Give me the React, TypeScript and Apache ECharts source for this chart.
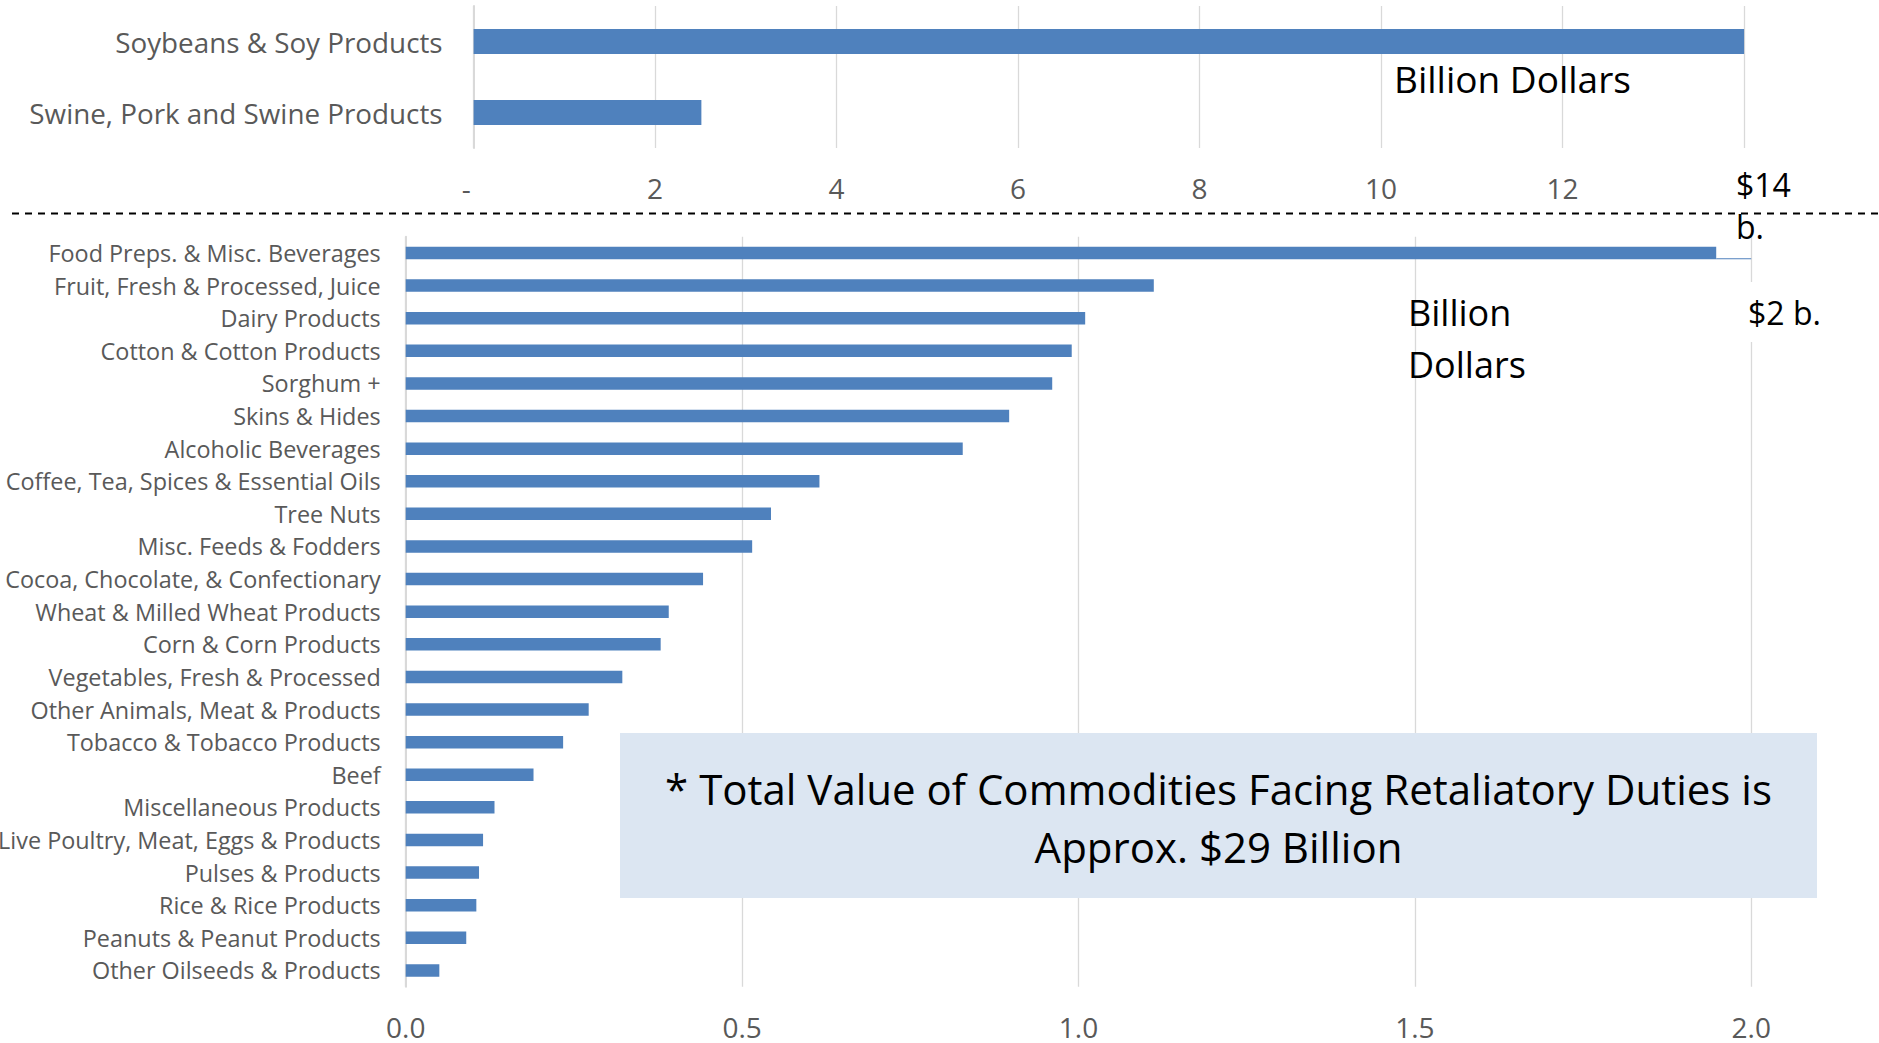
import React, { useEffect, useRef } from "react";
import * as echarts from "echarts";

const topCategories = ["Soybeans & Soy Products", "Swine, Pork and Swine Products"];
const topValues = [14.02, 2.51];

const bottomCategories = [
  "Food Preps. & Misc. Beverages",
  "Fruit, Fresh & Processed, Juice",
  "Dairy Products",
  "Cotton & Cotton Products",
  "Sorghum +",
  "Skins & Hides",
  "Alcoholic Beverages",
  "Coffee, Tea, Spices & Essential Oils",
  "Tree Nuts",
  "Misc. Feeds & Fodders",
  "Cocoa, Chocolate, & Confectionary",
  "Wheat & Milled Wheat Products",
  "Corn & Corn Products",
  "Vegetables, Fresh & Processed",
  "Other Animals, Meat & Products",
  "Tobacco & Tobacco Products",
  "Beef",
  "Miscellaneous Products",
  "Live Poultry, Meat, Eggs & Products",
  "Pulses & Products",
  "Rice & Rice Products",
  "Peanuts & Peanut Products",
  "Other Oilseeds & Products",
];
const bottomValues = [
  1.948, 1.112, 1.01, 0.99, 0.961, 0.897, 0.828, 0.615, 0.543, 0.515, 0.442, 0.391,
  0.379, 0.322, 0.272, 0.234, 0.19, 0.132, 0.115, 0.109, 0.105, 0.09, 0.05,
];
const bottomMax = 2.0;

const topUnitLabel = "Billion Dollars";
const topMaxLabel = "$14\nb.";
const bottomUnitLabel = "Billion\nDollars";
const bottomMaxLabel = "$2 b.";
const noteText = "* Total Value of Commodities Facing Retaliatory Duties is\nApprox. $29 Billion";

const FONT = "'Open Sans', Lato, sans-serif";
const BLUE = "#4F81BD";
const GRID = "#D9D9D9";
const LABEL = "#595959";

export default function App() {
  const ref = useRef<HTMLDivElement>(null);
  useEffect(() => {
    if (!ref.current) return;
    const chart = echarts.init(ref.current, null, { renderer: "svg" });
    const option: any = {
      animation: false,
      backgroundColor: "#ffffff",
      textStyle: { fontFamily: FONT },
      grid: [
        { left: 473.6, top: 6, width: 1270.5, height: 142, containLabel: false, outerBoundsMode: "none" },
        { left: 405.7, top: 236.7, width: 1345.5, height: 750, containLabel: false, outerBoundsMode: "none" },
      ],
      xAxis: [
        {
          type: "value",
          gridIndex: 0,
          min: 0,
          max: 14,
          interval: 2,
          axisLine: { show: false },
          axisTick: { show: false },
          splitLine: { show: true, lineStyle: { color: GRID, width: 1.3 } },
          axisLabel: {
            color: LABEL,
            fontFamily: FONT,
            fontSize: 28,
            margin: 26,
            formatter: (v: number) => (v === 0 ? "-  " : v === 14 ? "" : String(v)),
          },
        },
        {
          type: "value",
          gridIndex: 1,
          min: 0,
          max: bottomMax,
          interval: 0.5,
          axisLine: { show: false },
          axisTick: { show: false },
          splitLine: { show: true, lineStyle: { color: GRID, width: 1.3 } },
          axisLabel: {
            color: LABEL,
            fontFamily: FONT,
            fontSize: 28,
            lineHeight: 28,
            margin: 26,
            formatter: (v: number) => v.toFixed(1),
          },
        },
      ],
      yAxis: [
        {
          type: "category",
          gridIndex: 0,
          data: topCategories,
          inverse: true,
          axisLine: { show: true, lineStyle: { color: GRID, width: 2 } },
          axisTick: { show: false },
          axisLabel: { color: LABEL, fontFamily: FONT, fontSize: 27.8, margin: 31 },
        },
        {
          type: "category",
          gridIndex: 1,
          data: bottomCategories,
          inverse: true,
          axisLine: { show: true, lineStyle: { color: GRID, width: 2 } },
          axisTick: { show: false },
          axisLabel: { color: LABEL, fontFamily: FONT, fontSize: 23.4, margin: 25, interval: 0 },
        },
      ],
      series: [
        {
          type: "bar",
          xAxisIndex: 0,
          yAxisIndex: 0,
          data: topValues,
          barWidth: 25,
          itemStyle: { color: BLUE },
        },
        {
          type: "bar",
          xAxisIndex: 1,
          yAxisIndex: 1,
          data: bottomValues,
          barWidth: 12.5,
          itemStyle: { color: BLUE },
        },
      ],
    };
    chart.setOption(option);

    const a = chart.convertToPixel({ xAxisIndex: 1, yAxisIndex: 1 }, [bottomValues[0], 0]) as number[];
    const b = chart.convertToPixel({ xAxisIndex: 1, yAxisIndex: 1 }, [bottomMax, 0]) as number[];
    const lineY = a[1] + 12.5 / 2 - 0.5;

    chart.setOption({
      graphic: {
        elements: [
          {
            type: "line",
            shape: { x1: 12, y1: 213.5, x2: 1879, y2: 213.5 },
            style: { stroke: "#000000", lineWidth: 2, lineDash: [7, 6] },
            z: 10,
          },
          {
            type: "line",
            shape: { x1: a[0], y1: lineY, x2: b[0], y2: lineY },
            style: { stroke: BLUE, lineWidth: 1.2 },
            z: 10,
          },
          {
            type: "text",
            x: 1394,
            y: 78,
            style: {
              text: topUnitLabel,
              fill: "#000000",
              font: `37px ${FONT}`,
              textAlign: "left",
              textVerticalAlign: "middle",
            },
            z: 20,
          },
          {
            type: "text",
            x: 1736,
            y: 205,
            style: {
              text: topMaxLabel,
              fill: "#000000",
              font: `32px ${FONT}`,
              lineHeight: 42,
              textAlign: "left",
              textVerticalAlign: "middle",
            },
            z: 20,
          },
          {
            type: "text",
            x: 1744,
            y: 312,
            style: {
              text: bottomMaxLabel,
              fill: "#000000",
              font: `32px ${FONT}`,
              textAlign: "left",
              textVerticalAlign: "middle",
              backgroundColor: "#ffffff",
              padding: [14, 4, 14, 4],
            },
            z: 20,
          },
          {
            type: "text",
            x: 1408,
            y: 338,
            style: {
              text: bottomUnitLabel,
              fill: "#000000",
              font: `36px ${FONT}`,
              lineHeight: 52,
              textAlign: "left",
              textVerticalAlign: "middle",
            },
            z: 20,
          },
          {
            type: "rect",
            shape: { x: 620, y: 733, width: 1197, height: 165 },
            style: { fill: "#DCE6F2" },
            z: 15,
          },
          {
            type: "text",
            x: 1218.5,
            y: 817,
            style: {
              text: noteText,
              fill: "#000000",
              font: `42px ${FONT}`,
              lineHeight: 58,
              textAlign: "center",
              textVerticalAlign: "middle",
            },
            z: 20,
          },
        ],
      },
    });

    return () => chart.dispose();
  }, []);
  return (
    <div
      ref={ref}
      style={{ position: "absolute", left: 0, top: 0, width: 1879, height: 1043 }}
    />
  );
}
